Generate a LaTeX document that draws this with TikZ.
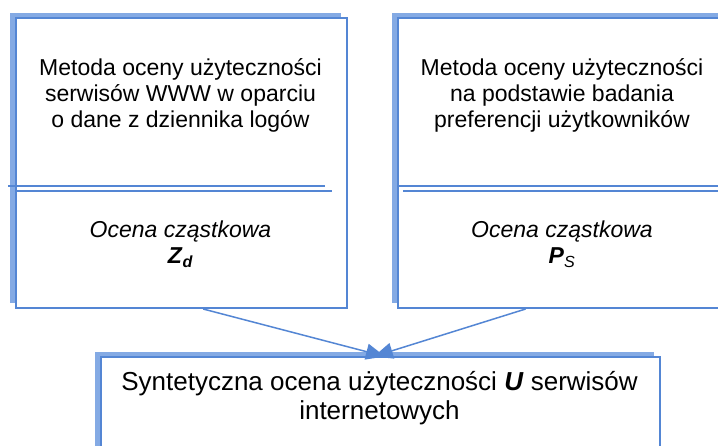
\documentclass[tikz,border=0pt]{standalone}
\usepackage{fontspec}
\setmainfont{Liberation Sans}
\usetikzlibrary{arrows.meta,calc,shadows}
\definecolor{edgeblue}{RGB}{84,134,212}
\definecolor{shadeblue}{RGB}{132,170,228}

\begin{document}
\begin{tikzpicture}[x=1pt,y=-1pt,
  panel/.style={draw=edgeblue, line width=2pt, fill=white, inner sep=0pt,
    anchor=north west,
    general shadow={fill=shadeblue, shadow xshift=-6pt, shadow yshift=5pt}},
  rule/.style={draw=edgeblue, line width=2pt},
  link/.style={draw=edgeblue, line width=1.5pt,
    -{Triangle[length=19pt,width=16pt]}},
  label/.style={inner sep=0pt, align=center, anchor=base,
    font=\fontsize{23}{26}\selectfont},
  biglabel/.style={label, font=\fontsize{26}{29.5}\selectfont}
]
\useasboundingbox (0,0) rectangle (718,446);
\clip (0,0) rectangle (718,446);
\fill[white] (0,0) rectangle (718,446);

% the two method panels and the synthesis panel
\node[panel, minimum width=331pt, minimum height=290pt] (lbox) at (15,17) {};
\node[panel, minimum width=340pt, minimum height=290pt] (rbox) at (397,17) {};
\node[panel, minimum width=559pt, minimum height=120pt] (bbox) at (100,356.5) {};

% double rules splitting the method panels
\draw[rule] (8,186.5) -- (325,186.5);
\draw[rule] (15,191.5) -- (332,191.5);
\draw[rule] (397,185.7) -- (730,185.7);
\draw[rule] (403,190.7) -- (730,190.7);

% texts (anchored at the baseline of their last line)
\node[label] (lhead) at (180.5,128)
  {Metoda oceny użyteczności\\serwisów WWW w oparciu\\o dane z dziennika logów};
\node[label] (rhead) at (562,128)
  {Metoda oceny użyteczności\\na podstawie badania\\preferencji użytkowników};
\node[label] (lpart) at (180.5,264)
  {\itshape Ocena cząstkowa\\\textbf{\textit{Z}}\textsubscript{\textbf{\textit{d}}}};
\node[label] (rpart) at (562,264)
  {\itshape Ocena cząstkowa\\\textbf{\textit{P}}\textsubscript{\textit{S}}};
\node[biglabel] (btext) at (379.5,420)
  {Syntetyczna ocena użyteczności \textbf{\textit{U}} serwisów\\internetowych};

% connectors
\coordinate (lfoot) at ($(lbox.south west)!0.565!(lbox.south east)$);
\coordinate (rfoot) at ($(rbox.south west)!0.376!(rbox.south east)$);
\coordinate (lend) at ($(bbox.north west)!0.508!(bbox.north east)$);
\coordinate (rend) at ($(bbox.north west)!0.488!(bbox.north east)$);
\draw[link] (lfoot) -- (lend);
\draw[link] (rfoot) -- (rend);
\end{tikzpicture}
\end{document}
